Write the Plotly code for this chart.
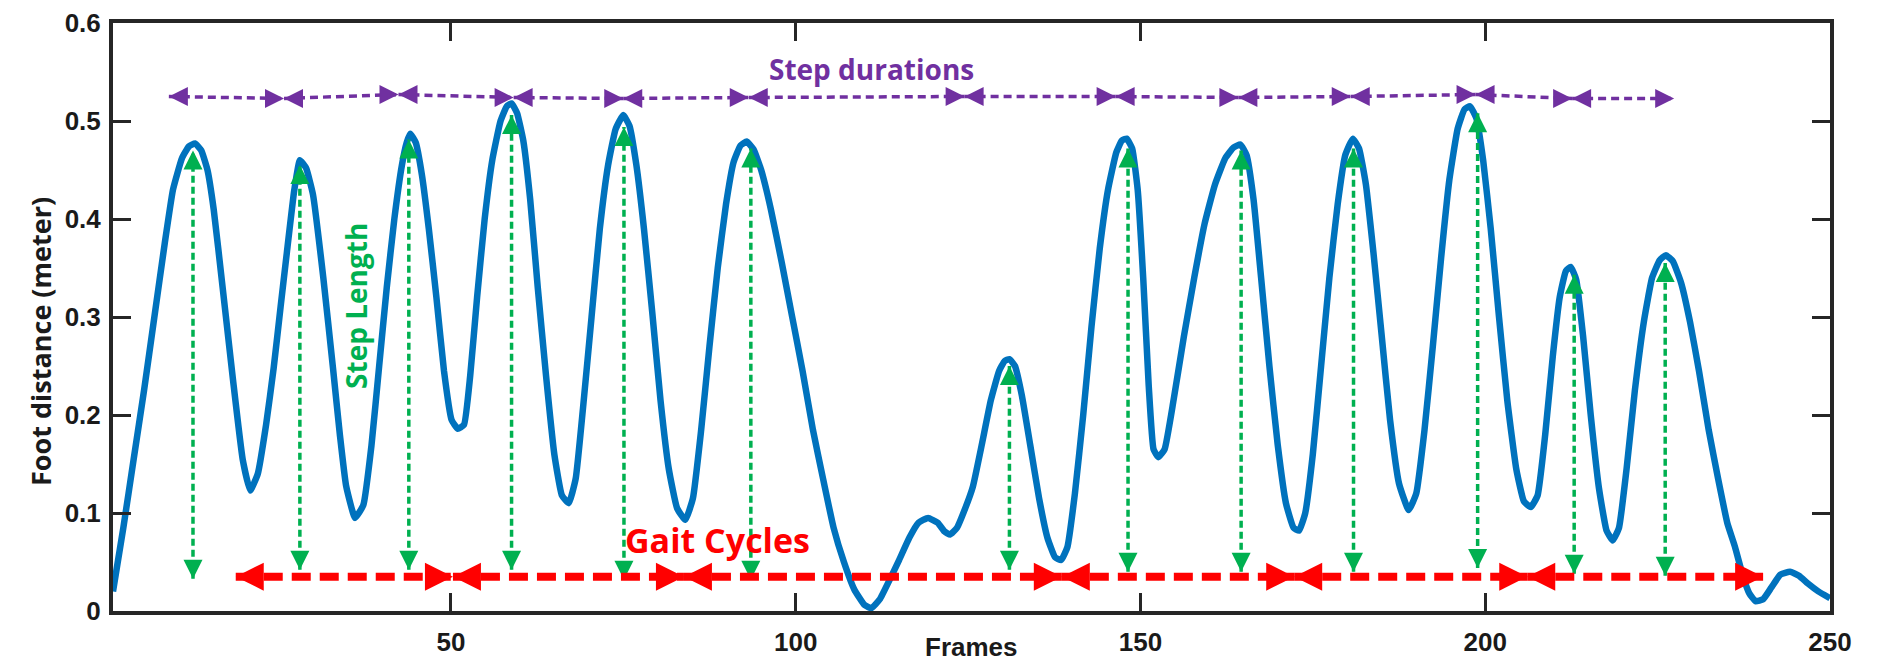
import plotly.graph_objects as go

# ---------------- data ----------------
frames = [1, 2.5, 4, 5.5, 7, 8.5, 9.7, 11, 12, 12.9, 13.8, 14.7, 15.6, 16.9, 18.4, 19.8, 20.9,
          22, 23.2, 24.3, 25.3, 26.2, 27.3, 28.1, 29, 30, 31.5, 32.9, 33.9, 34.8, 36.1,
          37.3, 38.5, 39.6, 40.7, 41.8, 42.9, 43.6, 44.1, 44.9, 45.8, 46.8, 47.9, 49, 50.1, 51, 51.9,
          52.8, 53.8, 54.9, 56, 57.2, 58.1, 58.8, 59.6, 60.5, 61.5, 62.6, 63.8, 65, 66.1, 67.1,
          68.1, 69.2, 70.4, 71.6, 72.8, 73.9, 75, 75.9, 76.9, 78, 79.2, 80.4, 81.6, 82.8, 84,
          85.1, 86.3, 87.5, 88.7, 89.9, 91, 92, 92.9, 93.9, 95, 96.4, 98, 99.5, 101, 102.5, 104,
          105.5, 107, 108.5, 110, 111, 112.2, 113.5, 115, 116.5, 117.8, 119.2, 120.6, 121.6, 122.4,
          123.4, 124.6, 125.7, 127, 128.3, 129.5, 130.3, 131, 131.8, 132.8, 134, 135.3, 136.5,
          137.6, 138.5, 139.4, 140.5, 141.7, 142.9, 144.1, 145.3, 146.5, 147.3, 148, 148.8, 149.6,
          150.4, 151.2, 151.9, 152.6, 153.5, 154.8, 156.3, 157.8, 159.3, 160.8, 162.3, 163.5,
          164.5, 165.4, 166.4, 167.5, 168.7, 169.9, 171.1, 172.2, 173, 173.9, 175, 176.2, 177.4,
          178.6, 179.7, 180.8, 181.7, 182.7, 183.8, 185, 186.2, 187.5, 188.9, 190, 191.2, 192.4,
          193.6, 194.8, 196, 197, 197.8, 198.7, 199.7, 200.8, 202, 203.2, 204.5, 205.6, 206.6,
          207.6, 208.7, 209.8, 210.8, 211.7, 212.4, 213.2, 214.2, 215.3, 216.5, 217.6, 218.5,
          219.4, 220.5, 221.7, 223, 224.2, 225.3, 226.2, 227.2, 228.4, 229.7, 231, 232.4, 233.8,
          235.1, 236.2, 237.4, 238.3, 239.2, 240.3, 241.5, 242.8, 244.2, 245.5, 246.8, 248.3, 250]

foot_distance = [0.020, 0.085, 0.155, 0.225, 0.300, 0.375, 0.430, 0.462, 0.474, 0.477, 0.470, 0.450,
                 0.410, 0.330, 0.236, 0.155, 0.123,
                 0.140, 0.190, 0.248, 0.310, 0.365, 0.430, 0.460, 0.452, 0.425, 0.340, 0.248, 0.180,
                 0.128, 0.095,
                 0.108, 0.170, 0.250, 0.330, 0.400, 0.455, 0.478, 0.487, 0.478, 0.445, 0.390, 0.320,
                 0.245, 0.195, 0.186, 0.190,
                 0.240, 0.320, 0.400, 0.460, 0.500, 0.515, 0.518, 0.508, 0.480, 0.420, 0.330, 0.240,
                 0.160, 0.118, 0.110,
                 0.135, 0.210, 0.300, 0.390, 0.455, 0.492, 0.506, 0.495, 0.455, 0.390, 0.305, 0.215,
                 0.145, 0.105, 0.093,
                 0.115, 0.185, 0.270, 0.350, 0.415, 0.458, 0.475, 0.479, 0.471, 0.450, 0.410, 0.355,
                 0.300, 0.245, 0.185, 0.134,
                 0.085, 0.050, 0.022, 0.006, 0.003, 0.012, 0.030, 0.052, 0.075, 0.090, 0.095, 0.090,
                 0.081, 0.078,
                 0.085, 0.105, 0.127, 0.170, 0.215, 0.245, 0.255, 0.257, 0.250, 0.220, 0.170, 0.115,
                 0.075,
                 0.055, 0.052, 0.065, 0.120, 0.200, 0.290, 0.370, 0.430, 0.468, 0.480, 0.482, 0.472,
                 0.430,
                 0.340, 0.230, 0.165, 0.157, 0.165, 0.215, 0.280, 0.340, 0.395, 0.435, 0.462, 0.473,
                 0.476, 0.465, 0.420, 0.340, 0.250, 0.170, 0.110, 0.085, 0.082, 0.100, 0.160, 0.250,
                 0.340,
                 0.415, 0.465, 0.482, 0.472, 0.435, 0.365, 0.280, 0.195, 0.130, 0.103, 0.120, 0.185,
                 0.270,
                 0.360, 0.440, 0.492, 0.512, 0.515, 0.503, 0.460, 0.390, 0.300, 0.215, 0.145, 0.112,
                 0.106,
                 0.118, 0.180, 0.260, 0.320, 0.347, 0.351, 0.338, 0.280, 0.200, 0.125, 0.082, 0.072,
                 0.085, 0.145, 0.225, 0.295, 0.340, 0.358, 0.363, 0.357, 0.335, 0.295, 0.245, 0.185,
                 0.134,
                 0.090, 0.066, 0.035, 0.018, 0.010, 0.012, 0.024, 0.037, 0.040, 0.036, 0.028, 0.020,
                 0.013]

# Step length arrows (green, vertical)
step_len_x = [12.6, 28.1, 43.9, 58.8, 75.1, 93.5, 131.0, 148.2, 164.6, 180.9, 198.9, 212.9, 226.1]
step_len_top = [0.470, 0.455, 0.481, 0.506, 0.494, 0.472, 0.250, 0.472, 0.470, 0.472, 0.508, 0.343, 0.355]
step_len_bottom = [0.033, 0.042, 0.042, 0.042, 0.032, 0.032, 0.042, 0.040, 0.040, 0.040, 0.044, 0.038, 0.036]

# Step duration arrows (purple, horizontal chain)
step_dur_x = [9.1, 25.8, 42.4, 59.1, 75.0, 93.2, 124.5, 146.4, 164.2, 180.5, 198.6, 212.6, 227.4]
step_dur_y = [0.525, 0.523, 0.527, 0.524, 0.523, 0.524, 0.525, 0.525, 0.524, 0.525, 0.527, 0.523, 0.523]

# Gait cycle arrows (red, horizontal chain)
gait_x = [18.8, 50.3, 83.8, 138.6, 172.3, 206.1, 240.3]
gait_y = [0.035, 0.035, 0.035, 0.035, 0.035, 0.035, 0.035]

x_ticks = [50, 100, 150, 200, 250]
y_ticks = [0, 0.1, 0.2, 0.3, 0.4, 0.5, 0.6]
y_tick_text = ["0", "0.1", "0.2", "0.3", "0.4", "0.5", "0.6"]

BLUE = "#0072BD"
GREEN = "#00B050"
PURPLE = "#7030A0"
RED = "#FF0000"
AXIS = "#262626"

fig = go.Figure()

# main curve
fig.add_trace(go.Scatter(x=frames, y=foot_distance, mode="lines",
                         line=dict(color=BLUE, width=6.5, shape="spline", smoothing=0.4),
                         hoverinfo="skip", showlegend=False))


def chain(xs, ys, color, width, dash, head):
    lx, ly = [], []
    hx, hy, hs = [], [], []
    for i in range(len(xs) - 1):
        lx += [xs[i], xs[i + 1], None]
        ly += [ys[i], ys[i + 1], None]
        hx += [xs[i], xs[i + 1]]
        hy += [ys[i], ys[i + 1]]
        hs += ["arrow-left", "arrow-right"]
    fig.add_trace(go.Scatter(x=lx, y=ly, mode="lines",
                             line=dict(color=color, width=width, dash=dash),
                             hoverinfo="skip", showlegend=False, cliponaxis=False))
    fig.add_trace(go.Scatter(x=hx, y=hy, mode="markers",
                             marker=dict(symbol=hs, size=head, color=color, line=dict(width=0)),
                             hoverinfo="skip", showlegend=False, cliponaxis=False))


# green vertical step-length arrows
gx, gy, hx, hy, hs = [], [], [], [], []
for x, t, b in zip(step_len_x, step_len_top, step_len_bottom):
    gx += [x, x, None]
    gy += [b, t, None]
    hx += [x, x]
    hy += [t, b]
    hs += ["arrow-up", "arrow-down"]
fig.add_trace(go.Scatter(x=gx, y=gy, mode="lines",
                         line=dict(color=GREEN, width=3.5, dash="7px,4px"),
                         hoverinfo="skip", showlegend=False))
fig.add_trace(go.Scatter(x=hx, y=hy, mode="markers",
                         marker=dict(symbol=hs, size=19, color=GREEN, line=dict(width=0)),
                         hoverinfo="skip", showlegend=False))

chain(step_dur_x, step_dur_y, PURPLE, 3.5, "8px,5px", 19)
chain(gait_x, gait_y, RED, 8, "19px,9px", 28)

ann_font = "Open Sans, Lato, sans-serif"
fig.add_annotation(x=111, y=0.553, xref="x", yref="y", text="Step durations", showarrow=False,
                   font=dict(family=ann_font, size=28, color=PURPLE, weight="bold"))
fig.add_annotation(x=88.6, y=0.072, xref="x", yref="y", text="Gait Cycles", showarrow=False,
                   font=dict(family=ann_font, size=34, color=RED, weight="bold"))
fig.add_annotation(x=36.2, y=0.311, xref="x", yref="y", text="Step Length", showarrow=False,
                   textangle=-90,
                   font=dict(family=ann_font, size=28, color=GREEN, weight="bold"))

# axis titles
fig.add_annotation(x=0.5, y=0, xref="paper", yref="paper", yshift=-36, text="Frames",
                   showarrow=False, yanchor="middle",
                   font=dict(family="Liberation Sans, Arial", size=26, color="#1a1a1a", weight="bold"))
fig.add_annotation(x=0, y=0.4575, xref="paper", yref="paper", xshift=-72, text="Foot distance (meter)",
                   showarrow=False, textangle=-90, xanchor="center", yanchor="middle",
                   font=dict(family=ann_font, size=27, color="#1a1a1a", weight="bold"))

axis_common = dict(showline=True, linewidth=4, linecolor=AXIS, mirror="ticks", ticks="inside",
                   ticklen=18, tickwidth=3, tickcolor=AXIS, showgrid=False, zeroline=False,
                   automargin=False,
                   tickfont=dict(family="Liberation Sans, Arial", size=26, color="#1a1a1a", weight="bold"))

fig.update_xaxes(range=[1, 250], tickmode="array", tickvals=x_ticks, ticklabelstandoff=5, **axis_common)
fig.update_yaxes(range=[0, 0.6], tickmode="array", tickvals=y_ticks, ticktext=y_tick_text,
                 ticklabelstandoff=3, **axis_common)

fig.update_layout(width=1889, height=665, autosize=False,
                  margin=dict(l=113, r=59, t=23, b=54, pad=0),
                  paper_bgcolor="white", plot_bgcolor="white")

fig.write_html("out.html", config={"displayModeBar": False},
               post_script="document.body.style.margin='0';document.body.style.overflow='hidden';")
